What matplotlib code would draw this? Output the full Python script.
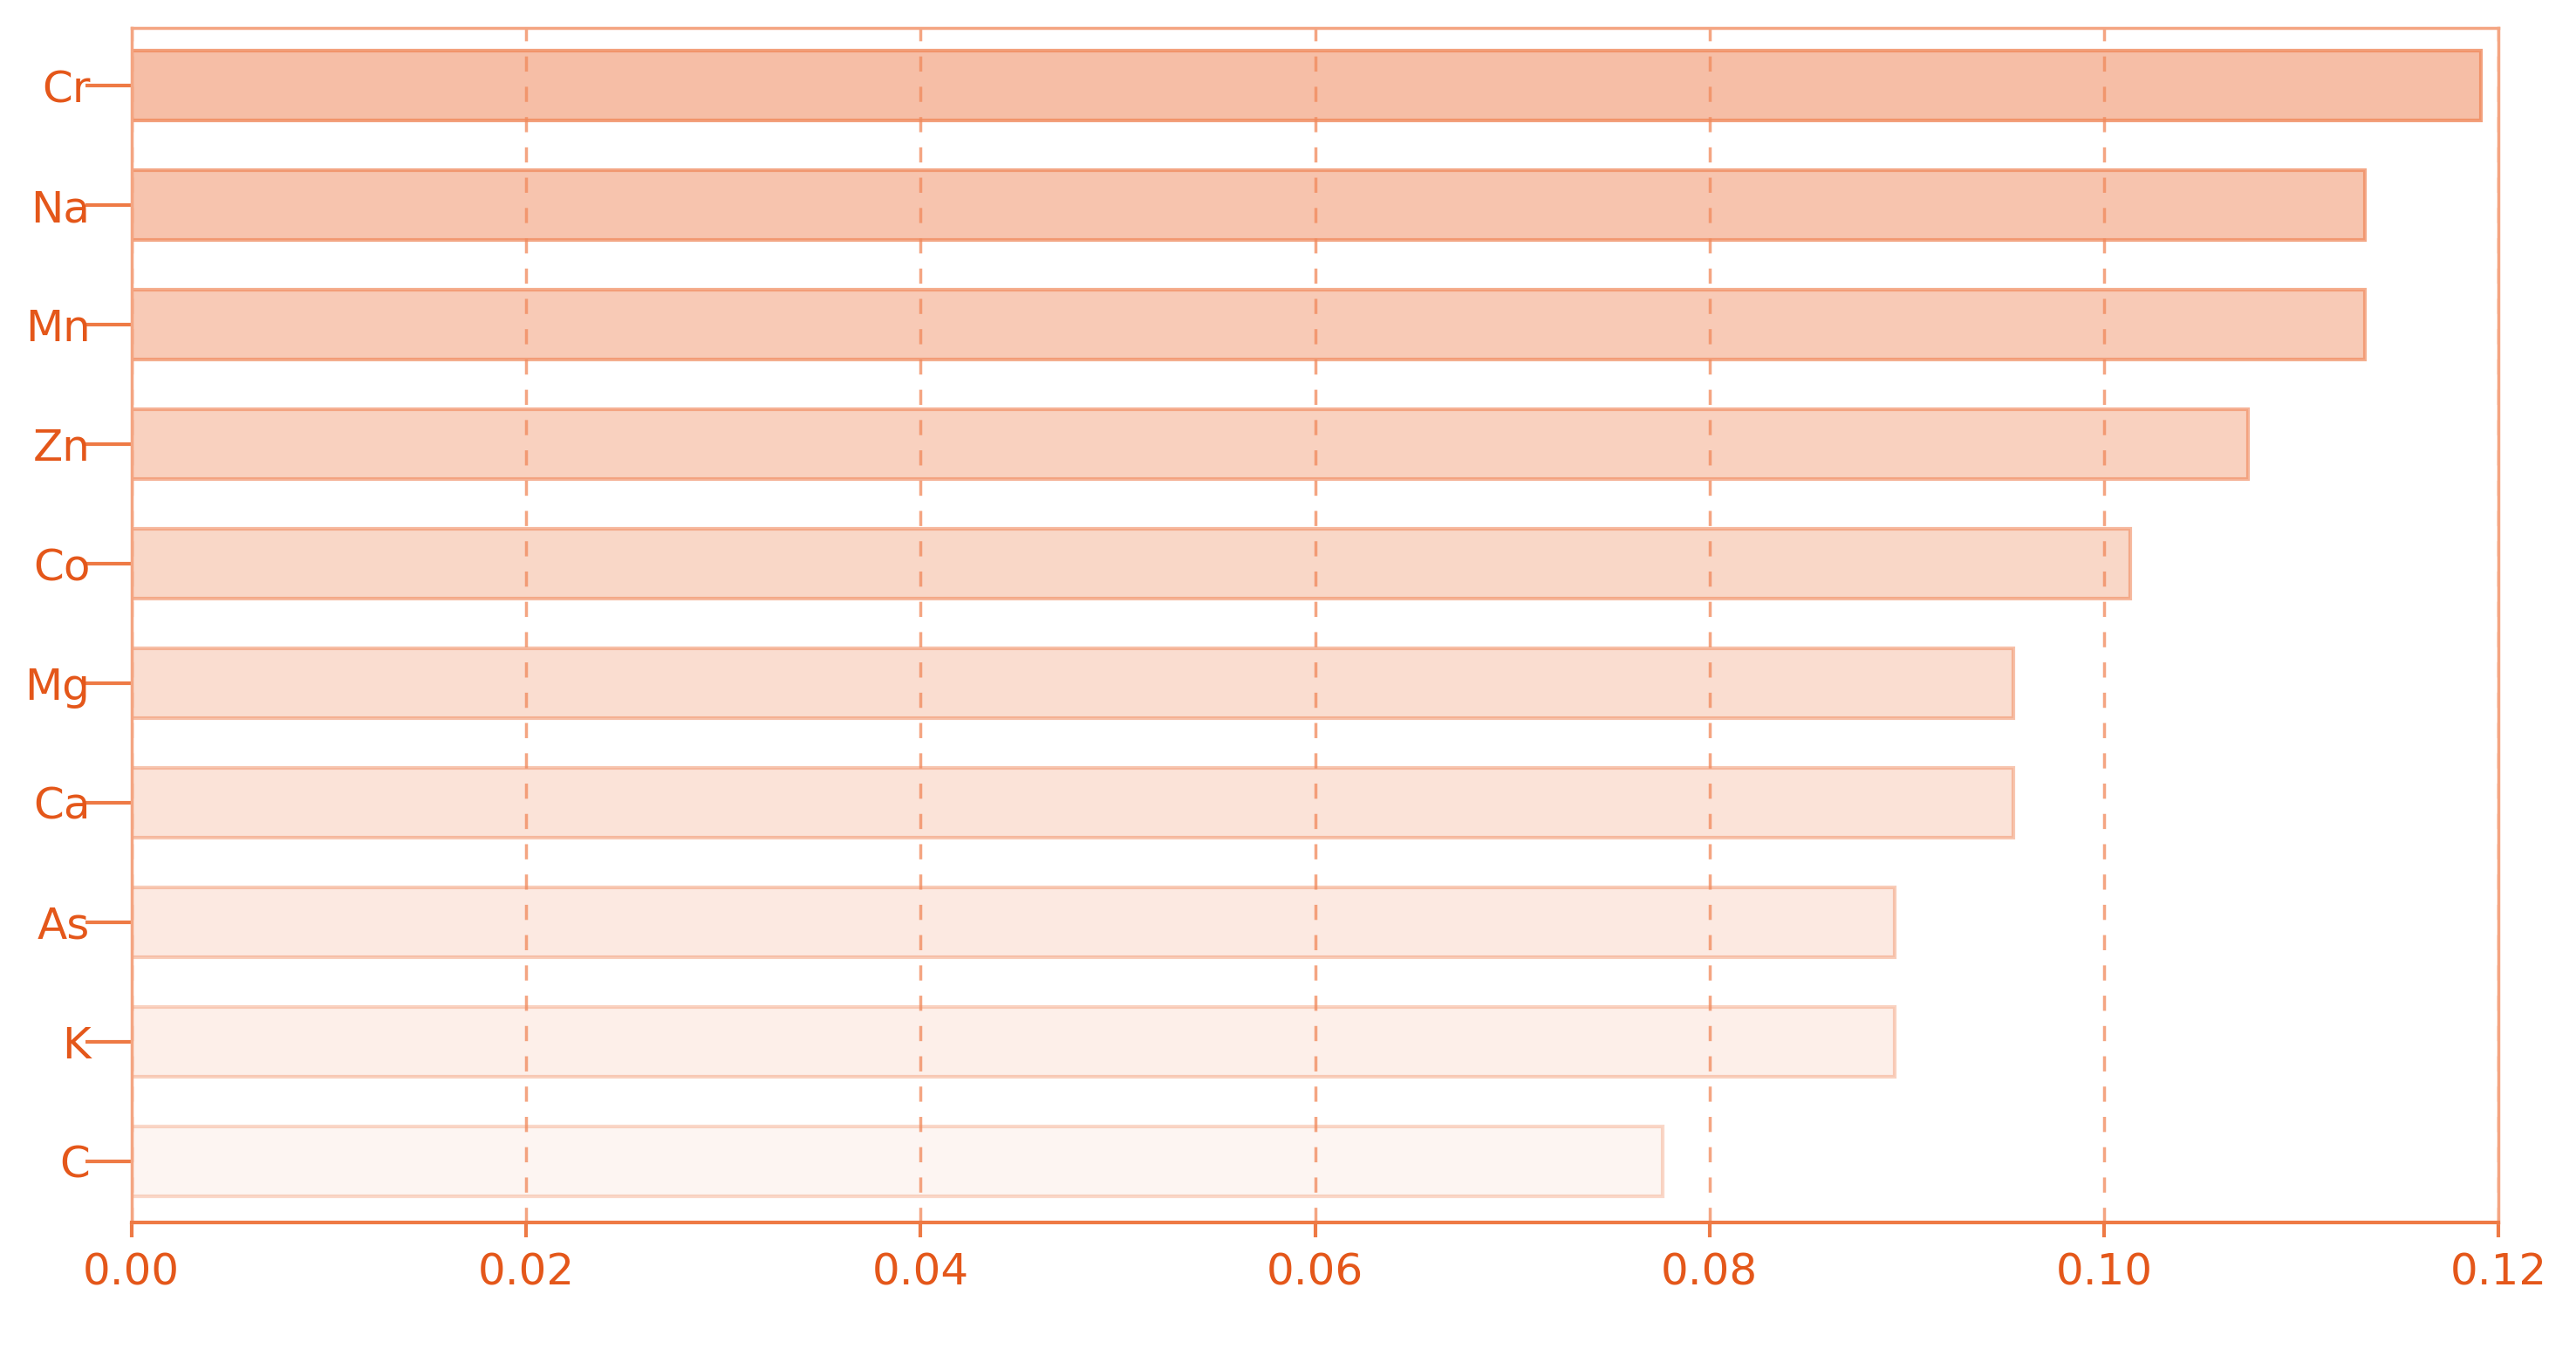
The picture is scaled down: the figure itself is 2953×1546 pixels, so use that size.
import numpy as np
import matplotlib.pyplot as plt
from matplotlib.colors import to_rgba

elements = ["Cr", "Na", "Mn", "Zn", "Co", "Mg", "Ca", "As", "K", "C"]
importance = [0.1191, 0.1132, 0.1132, 0.1073, 0.1013, 0.0954, 0.0954, 0.0894, 0.0894, 0.0776]
x_ticks = [0.00, 0.02, 0.04, 0.06, 0.08, 0.10, 0.12]

base = "#f08a5d"
txt = "#e4571a"
line = "#f4a582"

fig = plt.figure(figsize=(29.53, 15.46), dpi=100)
ax = fig.add_axes([0.051, 0.094, 0.919, 0.885])

n = len(elements)
alphas = np.linspace(0.55, 0.08, n)
y = np.arange(n)
for yi, v, a in zip(y, importance, alphas):
    ax.barh(yi, v, height=0.58, color=to_rgba(base, a),
            edgecolor=to_rgba(base, min(a + 0.25, 1)), linewidth=3, zorder=2)

ax.set_ylim(n - 0.49, -0.48)
ax.set_xlim(0, 0.12)
ax.set_yticks(y)
ax.set_yticklabels(elements)
ax.set_xticks(x_ticks)
ax.set_xticklabels([f"{t:.2f}" for t in x_ticks])
ax.xaxis.grid(True, linestyle=(0, (5, 5)), color=line, linewidth=2.5, zorder=0)

for s in ax.spines.values():
    s.set_color(line)
    s.set_linewidth(2.5)
ax.spines["bottom"].set_color("#ee7a45")
ax.spines["bottom"].set_linewidth(3)

ax.tick_params(axis="y", colors=txt, labelsize=36, length=38, width=3, pad=-4)
ax.tick_params(axis="x", colors=txt, labelsize=36, length=12, width=3, pad=12)
ax.tick_params(axis="both", color="#ee7a45")

fig.savefig("out.png", dpi=100)
